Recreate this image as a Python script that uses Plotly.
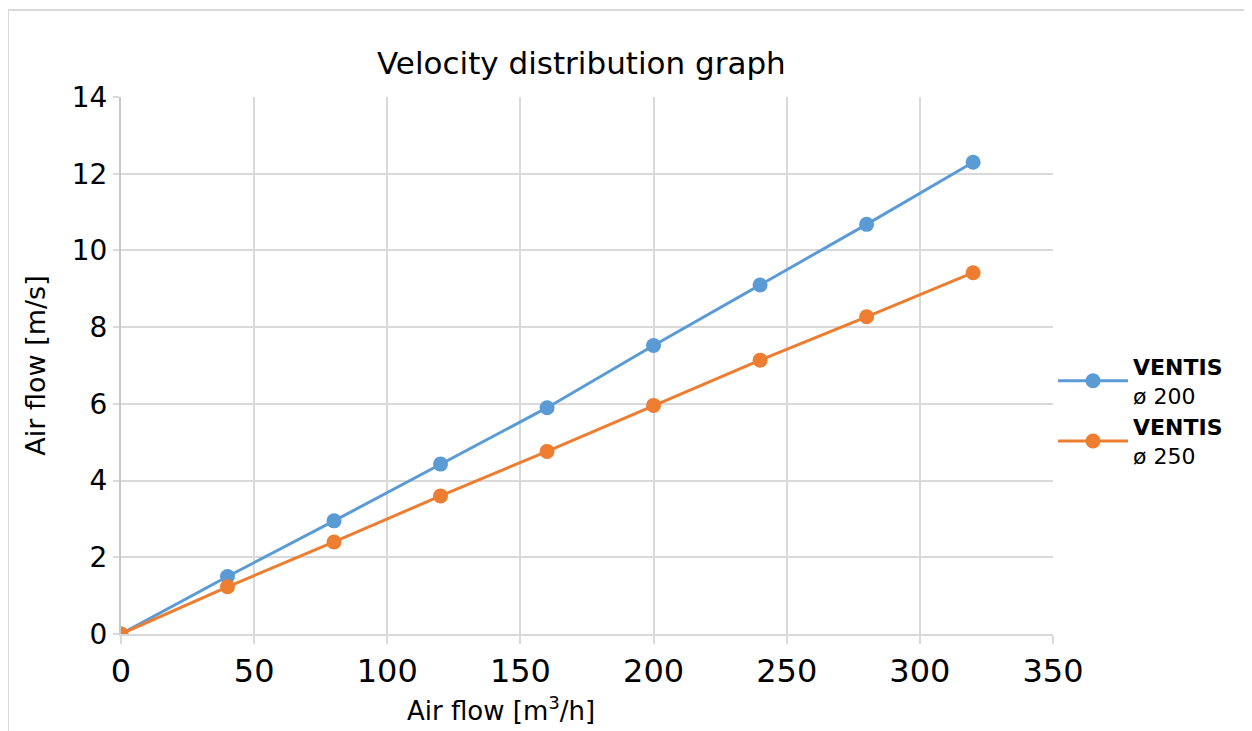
import plotly.graph_objects as go

airflow_m3h = [0, 40, 80, 120, 160, 200, 240, 280, 320]
velocity_200 = [0, 1.5, 2.95, 4.43, 5.9, 7.52, 9.1, 10.68, 12.3]
velocity_250 = [0, 1.23, 2.4, 3.6, 4.76, 5.96, 7.14, 8.27, 9.42]
series_names = ["<b>VENTIS</b><br>ø 200", "<b>VENTIS</b><br>ø 250"]
series_colors = ["#5B9BD5", "#ED7D31"]

FONT = "DejaVu Sans"

fig = go.Figure()
for name, vals, col in zip(series_names, [velocity_200, velocity_250], series_colors):
    fig.add_trace(go.Scatter(
        x=airflow_m3h, y=vals, name=name, mode="lines+markers",
        line=dict(color=col, width=3),
        marker=dict(color=col, size=15),
    ))

fig.update_layout(
    width=1252, height=731,
    paper_bgcolor="white", plot_bgcolor="white",
    margin=dict(l=113, r=207, t=89, b=105),
    font=dict(family=FONT, color="black"),
    title=dict(text="Velocity distribution graph", x=0.458, xanchor="center",
               y=0.925, yanchor="middle", font=dict(size=31, family=FONT)),
    legend=dict(x=1.0, xanchor="left", y=0.415, yanchor="middle",
                font=dict(size=22, family=FONT), tracegroupgap=0,
                itemwidth=70, bgcolor="rgba(0,0,0,0)"),
    xaxis=dict(range=[0, 350], dtick=50, tick0=0,
               showgrid=True, gridcolor="#D9D9D9", gridwidth=1.5,
               showline=True, linecolor="#D9D9D9", linewidth=1.5,
               ticks="outside", ticklen=8, tickcolor="#D9D9D9", tickwidth=1.5,
               tickfont=dict(size=32, family=FONT), zeroline=False),
    yaxis=dict(range=[0, 14], dtick=2, tick0=0,
               showgrid=True, gridcolor="#D9D9D9", gridwidth=1.5,
               showline=True, linecolor="#C8C8C8", linewidth=2,
               ticks="outside", ticklen=6, tickcolor="#D9D9D9", tickwidth=1.5,
               tickfont=dict(size=28, family=FONT), zeroline=False,
               title=dict(text="Air flow [m/s]", font=dict(size=27, family=FONT), standoff=18)),
)

# x-axis title (offset to the left as in the reference)
fig.add_annotation(text="Air flow [m<sup>3</sup>/h]", xref="paper", yref="paper",
                   x=0.408, y=-75/537, xanchor="center", yanchor="middle",
                   showarrow=False, font=dict(size=26, family=FONT, color="black"))

# light outer frame of the chart area
fig.add_shape(type="rect", xref="paper", yref="paper",
              x0=-113/932, x1=1.3, y0=-0.3, y1=1 + 87/537,
              line=dict(color="#D9D9D9", width=2), fillcolor="rgba(0,0,0,0)", layer="below")

fig.write_html("out.html")
